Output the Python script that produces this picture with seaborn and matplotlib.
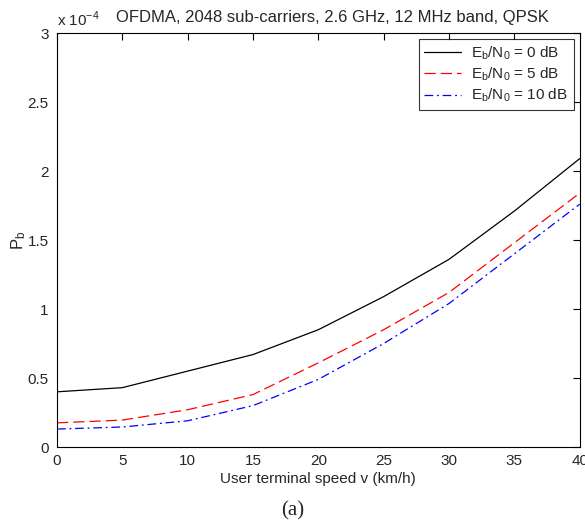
import pandas as pd
import matplotlib
matplotlib.use("Agg")
import matplotlib.pyplot as plt
import seaborn as sns
from matplotlib.ticker import FuncFormatter, MultipleLocator

# Bit error probability vs user terminal speed
speed = [0, 5, 10, 15, 20, 25, 30, 35, 40]
pb_0db = [0.40e-4, 0.43e-4, 0.55e-4, 0.67e-4, 0.85e-4, 1.09e-4, 1.36e-4, 1.71e-4, 2.09e-4]
pb_5db = [0.175e-4, 0.195e-4, 0.27e-4, 0.38e-4, 0.61e-4, 0.85e-4, 1.12e-4, 1.48e-4, 1.84e-4]
pb_10db = [0.13e-4, 0.145e-4, 0.19e-4, 0.30e-4, 0.49e-4, 0.75e-4, 1.04e-4, 1.40e-4, 1.76e-4]
labels = [r'$\mathrm{E_b/N_0}$ = 0 dB', r'$\mathrm{E_b/N_0}$ = 5 dB', r'$\mathrm{E_b/N_0}$ = 10 dB']

df = pd.DataFrame({
    "speed": speed * 3,
    "pb": pb_0db + pb_5db + pb_10db,
    "case": [labels[0]] * 9 + [labels[1]] * 9 + [labels[2]] * 9,
})

sns.set_style("white")
plt.rcParams['font.family'] = ['Liberation Sans', 'DejaVu Sans']
plt.rcParams['mathtext.fontset'] = 'custom'
plt.rcParams['mathtext.rm'] = 'Liberation Sans'
plt.rcParams['xtick.direction'] = 'in'
plt.rcParams['ytick.direction'] = 'in'

fig = plt.figure(figsize=(5.85, 5.29), dpi=100)
ax = fig.add_axes([0.0974, 0.155, 0.8936, 0.7826])

sns.lineplot(data=df, x="speed", y="pb", hue="case", style="case",
             palette={labels[0]: "black", labels[1]: "red", labels[2]: "blue"},
             dashes={labels[0]: "", labels[1]: (9, 4), labels[2]: (7, 3, 1.5, 3)},
             linewidth=0.9, ax=ax)

ax.set_xlim(0, 40)
ax.set_ylim(0, 3e-4)
ax.xaxis.set_major_locator(MultipleLocator(5))
ax.yaxis.set_major_locator(MultipleLocator(0.5e-4))
ax.yaxis.set_major_formatter(FuncFormatter(lambda v, _: f'{v / 1e-4:g}'))
ax.tick_params(axis='both', which='both', top=True, right=True, length=5,
               width=0.8, labelsize=11, color='black')
ax.tick_params(axis='x', pad=5)
ax.tick_params(axis='y', pad=6)
for s in ax.spines.values():
    s.set_color('black')
    s.set_linewidth(0.8)

ax.set_xlabel("User terminal speed v (km/h)", fontsize=11, labelpad=3)
ax.set_ylabel(r"$\mathrm{P_b}$", fontsize=12, labelpad=0)

leg = ax.legend(loc='upper right', fontsize=11, frameon=True, fancybox=False,
                borderaxespad=0.4, handlelength=2.4, labelspacing=0.25,
                borderpad=0.35, handletextpad=0.7)
leg.get_frame().set_edgecolor('black')
leg.get_frame().set_linewidth(0.8)
leg.set_title(None)

fig.text(0.097, 0.964, r"x 10$^{\mathrm{-4}}$", fontsize=11, ha='left', va='center')
fig.text(0.568, 0.967, "OFDMA, 2048 sub-carriers, 2.6 GHz, 12 MHz band, QPSK",
         fontsize=12, ha='center', va='center')
fig.text(0.5, 0.035, "(a)", fontsize=15, ha='center', va='center',
         family=['Liberation Serif', 'DejaVu Serif'])

fig.savefig("out.png", dpi=100)
